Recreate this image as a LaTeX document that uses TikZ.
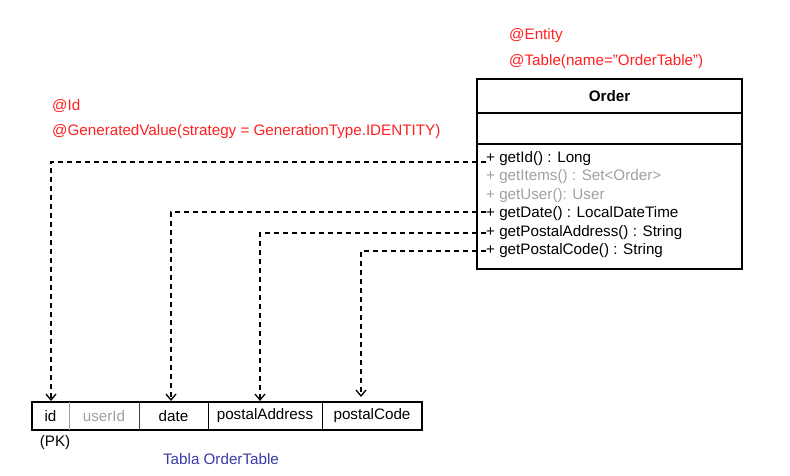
\documentclass[tikz,border=0pt]{standalone}
\usepackage{fontspec}
\setmainfont{Liberation Sans}
\usetikzlibrary{arrows.meta}
\definecolor{annot}{HTML}{FF2020}
\definecolor{greytxt}{HTML}{A0A0A0}
\definecolor{captionblue}{HTML}{3A3AA8}
\tikzset{
  every node/.style={inner sep=0pt, font=\fontsize{15.2}{17}\selectfont},
  annotation/.style={anchor=west, text=annot},
  member/.style={anchor=west},
  faded/.style={anchor=west, text=greytxt},
  colname/.style={anchor=center},
  mapping/.style={draw=black, line width=1.2pt, dash pattern=on 5pt off 4pt, -{Straight Barb[length=6pt,width=10pt,line width=1.3pt]}},
  boxline/.style={draw=black, line width=1.6pt},
}
\begin{document}
\begin{tikzpicture}[x=1pt,y=-1pt]
\useasboundingbox (0,0) rectangle (790,476);
% annotations
\node[annotation] (ent) at (509,36) {@Entity};
\node[annotation] (tab) at (509,62) {@Table(name="OrderTable")};
\node[annotation] (idann) at (52,106) {@Id};
\node[annotation] (genann) at (52,132) {@GeneratedValue(strategy = GenerationType.IDENTITY)};
% class box
\draw[boxline] (477,79) rectangle (742,269);
\draw[boxline] (477,113) -- (742,113);
\draw[boxline] (477,144) -- (742,144);
\node[font=\fontsize{15.2}{17}\selectfont\bfseries] (title) at (609.5,96) {Order};
\node[member] (m1) at (486,159) {+ getId() : Long};
\node[faded] (m2) at (486,177) {+ getItems() : Set<Order>};
\node[faded] (m3) at (486,196) {+ getUser(): User};
\node[member] (m4) at (486,214) {+ getDate() : LocalDateTime};
\node[member] (m5) at (486,233) {+ getPostalAddress() : String};
\node[member] (m6) at (486,251) {+ getPostalCode() : String};
% table
\draw[boxline] (32,402) rectangle (422,430);
\draw[line width=1pt, greytxt] (69,402) -- (69,430);
\draw[line width=1pt, black!75] (139,402) -- (139,430);
\draw[line width=1pt] (208,402) -- (208,430);
\draw[line width=1pt] (322,402) -- (322,430);
\node[colname] (cid) at (50.5,416) {id};
\node[colname, text=greytxt] (cuser) at (104,416) {userId};
\node[colname] (cdate) at (173.5,416) {date};
\coordinate (tid) at (51,401);
\coordinate (tdate) at (171,401);
\coordinate (taddr) at (260,401);
\coordinate (tcode) at (361,397);
\node[colname] (caddr) at (265,416) {postalAddress};
\node[colname] (ccode) at (372,416) {postalCode};
\node[colname] (pk) at (55,443) {(PK)};
\node[colname, text=captionblue] (cap) at (221,459) {Tabla OrderTable};
% mappings
\draw[mapping] ([yshift=-3pt]m1.west) -| (tid);
\draw[mapping] ([yshift=2pt]m4.west) -| (tdate);
\draw[mapping] (m5.west) -| (taddr);
\draw[mapping] (m6.west) -| (tcode);
\end{tikzpicture}
\end{document}
